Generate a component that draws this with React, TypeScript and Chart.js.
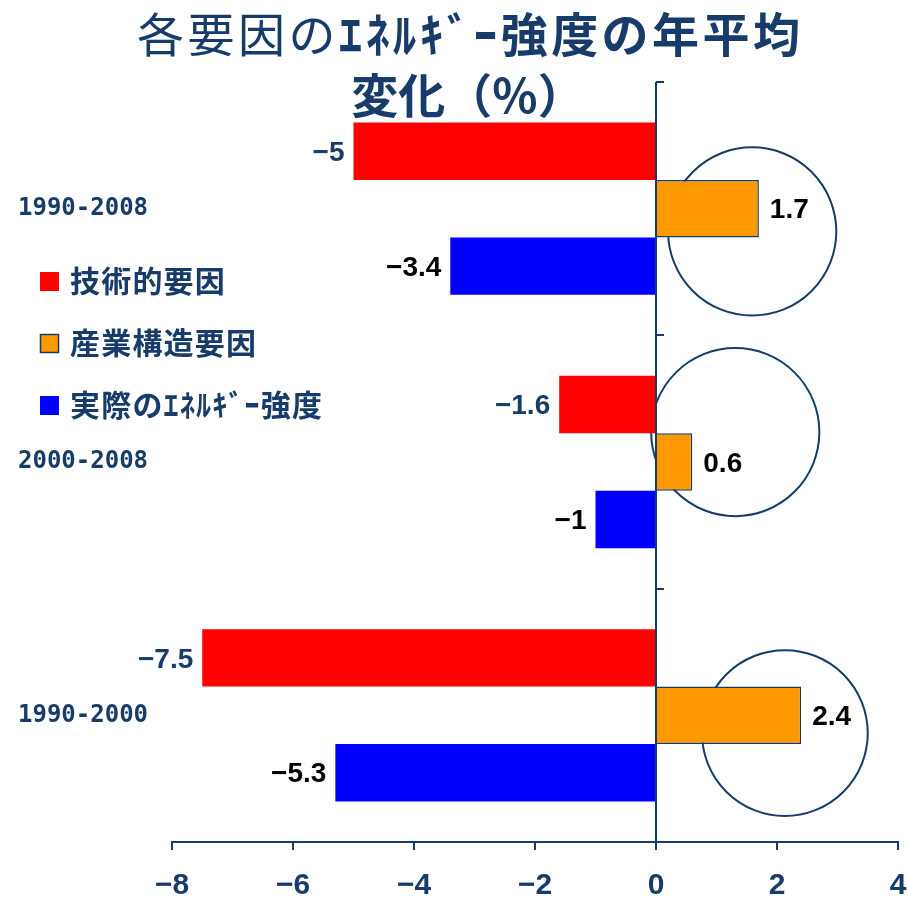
import React, { useEffect, useRef } from 'react';
import { Chart, registerables } from 'chart.js';

Chart.register(...registerables);

// ---- data ----
const categories = ['1990-2008', '2000-2008', '1990-2000'];
const seriesNames = ['技術的要因', '産業構造要因', '実際のｴﾈﾙｷﾞｰ強度'];
const technicalFactor = [-5, -1.6, -7.5];
const industrialFactor = [1.7, 0.6, 2.4];
const actualIntensity = [-3.4, -1, -5.3];
const xMin = -8;
const xMax = 4;
const xStep = 2;
const titleLine1a = '各要因の';
const titleLine1b = 'ｴﾈﾙｷﾞｰ強度の年平均';
const titleLine2 = '変化（%）';

// circle annotations (value units / category offset / radius in value units)
const circleX = [1.59, 1.31, 2.13];
const circleDy = [0.09, -0.118, 0.07];
const circleR = [1.39, 1.39, 1.37];

const NAVY = '#173C6A';
const seriesColors = ['#FF0000', '#FF9900', '#0000FF'];
const labelColors = [NAVY, '#000000', '#000000'];
const CJK = '"Noto Sans CJK JP", "Noto Sans", sans-serif';
const NUM = '"Liberation Sans", Arial, sans-serif';

const fmt = (v: number) => (v < 0 ? '\u2212' + Math.abs(v) : String(v));

const overlay = {
  id: 'overlay',
  beforeDatasetsDraw(chart: any) {
    const { ctx, scales } = chart;
    const xs = scales.x;
    const ys = scales.y;
    ctx.save();
    ctx.strokeStyle = NAVY;
    ctx.lineWidth = 2;
    for (let i = 0; i < circleX.length; i++) {
      const cx = xs.getPixelForValue(circleX[i]);
      const cy = ys.getPixelForValue(i + circleDy[i]);
      const r = xs.getPixelForValue(circleR[i]) - xs.getPixelForValue(0);
      ctx.beginPath();
      ctx.arc(cx, cy, r, 0, Math.PI * 2);
      ctx.stroke();
    }
    ctx.restore();
  },
  afterDraw(chart: any) {
    const { ctx, scales } = chart;
    const xs = scales.x;
    const ys = scales.y;
    ctx.save();
    // category tick marks on zero axis
    const x0 = xs.getPixelForValue(0);
    ctx.strokeStyle = NAVY;
    ctx.lineWidth = 2;
    for (let i = 0; i < categories.length; i++) {
      const y = Math.round(ys.getPixelForValue(i - 0.5));
      ctx.beginPath();
      ctx.moveTo(x0, y);
      ctx.lineTo(x0 + 8, y);
      ctx.stroke();
    }
    // data labels
    ctx.font = `bold 28px ${NUM}`;
    ctx.textBaseline = 'middle';
    chart.data.datasets.forEach((ds: any, di: number) => {
      const meta = chart.getDatasetMeta(di);
      meta.data.forEach((el: any, i: number) => {
        const v = ds.data[i];
        ctx.fillStyle = labelColors[di];
        if (v < 0) {
          ctx.textAlign = 'right';
          ctx.fillText(fmt(v), el.x - 9, el.y + 2);
        } else {
          ctx.textAlign = 'left';
          ctx.fillText(fmt(v), el.x + 11, el.y + 2);
        }
      });
    });
    // legend
    const rows = [281, 343, 405];
    ctx.textAlign = 'left';
    ctx.font = `bold 30px ${CJK}`;
    chart.data.datasets.forEach((ds: any, di: number) => {
      const cy = rows[di];
      ctx.fillStyle = ds.backgroundColor;
      ctx.fillRect(40, cy - 9, 19, 19);
      if (ds.borderWidth) {
        ctx.strokeStyle = NAVY;
        ctx.lineWidth = 1.5;
        ctx.strokeRect(40.5, cy - 8.5, 18, 18);
      }
      ctx.fillStyle = NAVY;
      let lx = 70;
      for (const ch of ds.label) {
        ctx.fillText(ch, lx, cy);
        lx += ctx.measureText(ch).width + 1.2;
      }
    });
    // title
    ctx.fillStyle = NAVY;
    ctx.textBaseline = 'middle';
    ctx.textAlign = 'left';
    const size = 47;
    const segs = [
      { t: titleLine1a, w: 'normal' },
      { t: titleLine1b, w: 'bold' },
    ];
    let total = 0;
    let count = 0;
    segs.forEach((s) => {
      ctx.font = `${s.w} ${size}px ${CJK}`;
      for (const ch of s.t) {
        total += ctx.measureText(ch).width;
        count++;
      }
    });
    const startX = 137;
    const targetW = 663;
    const sp = (targetW - total) / (count - 1);
    let x = startX;
    segs.forEach((s) => {
      ctx.font = `${s.w} ${size}px ${CJK}`;
      for (const ch of s.t) {
        ctx.fillText(ch, x, 34);
        x += ctx.measureText(ch).width + sp;
      }
    });
    ctx.font = `bold ${size}px ${CJK}`;
    ctx.textAlign = 'center';
    ctx.fillText(titleLine2, 468, 95);
    ctx.restore();
  },
};

export default function App() {
  const ref = useRef<HTMLCanvasElement>(null);
  useEffect(() => {
    const chart = new Chart(ref.current as HTMLCanvasElement, {
      type: 'bar',
      data: {
        labels: categories,
        datasets: [
          { label: seriesNames[0], data: technicalFactor, backgroundColor: seriesColors[0], borderWidth: 0 },
          { label: seriesNames[1], data: industrialFactor, backgroundColor: seriesColors[1], borderColor: NAVY, borderWidth: 1.5 },
          { label: seriesNames[2], data: actualIntensity, backgroundColor: seriesColors[2], borderWidth: 0 },
        ],
      },
      options: {
        indexAxis: 'y',
        animation: false,
        responsive: false,
        devicePixelRatio: 1,
        categoryPercentage: 0.68,
        barPercentage: 1,
        layout: { padding: { left: 18, right: 10, top: 82, bottom: 0 } },
        plugins: {
          legend: { display: false },
          title: { display: false },
          tooltip: { enabled: false },
        },
        scales: {
          x: {
            min: xMin,
            max: xMax,
            ticks: {
              stepSize: xStep,
              color: NAVY,
              padding: 18,
              font: { family: NUM, size: 30, weight: 'bold' },
              callback: (v: any) => fmt(Number(v)),
            },
            grid: {
              color: (c: any) => (c.tick && c.tick.value === 0 ? NAVY : 'rgba(0,0,0,0)'),
              lineWidth: 2,
              tickColor: NAVY,
              tickLength: 8,
              tickWidth: 2,
              drawOnChartArea: true,
            },
            border: { color: NAVY, width: 2 },
            afterFit: (s: any) => {
              s.height = 56;
              s.paddingLeft = 0;
              s.paddingRight = 0;
            },
          },
          y: {
            ticks: {
              crossAlign: 'far',
              color: NAVY,
              font: { family: '"DejaVu Sans Mono", monospace', size: 24, weight: 'bold' },
            },
            grid: { display: false },
            border: { display: false },
            afterFit: (s: any) => {
              s.width = 154;
              s.paddingTop = 0;
              s.paddingBottom = 0;
            },
          },
        },
      } as any,
      plugins: [overlay],
    });
    return () => chart.destroy();
  }, []);
  return (
    <div style={{ position: 'absolute', left: 0, top: 0, width: 908, height: 898, background: '#fff' }}>
      <canvas ref={ref} width={908} height={898} />
    </div>
  );
}
